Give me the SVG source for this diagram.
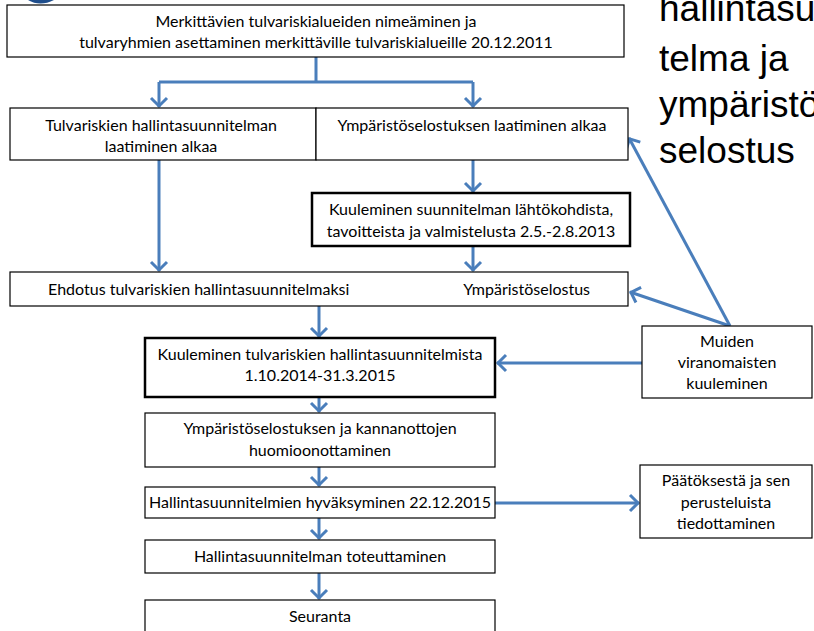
<svg xmlns="http://www.w3.org/2000/svg" width="814" height="631" viewBox="0 0 814 631">
<defs>
<marker id="ah" markerUnits="userSpaceOnUse" markerWidth="22" markerHeight="22" viewBox="-11 -11 22 22" refX="0" refY="0" orient="auto"><path d="M-9,-8 L-1,0 L-9,8" fill="none" stroke="#4a7ebb" stroke-width="3"/></marker>
</defs>
<style>
.box{fill:#fff;stroke:#000;stroke-width:1.2}
.thick{stroke-width:2.5}
.t{font-family:Lato,"Liberation Sans",sans-serif;font-size:16px;fill:#000;text-anchor:middle}
.big{font-family:"Liberation Sans",Arial,sans-serif;font-size:37px;fill:#000}
.c{fill:none;stroke:#4a7ebb;stroke-width:3}
.a{marker-end:url(#ah)}
</style>
<rect width="814" height="631" fill="#fff"/>
<path d="M28,0 Q40,7 54,0 Z" fill="#1f4e8c"/>
<g id="title">
<text class="big" x="659" y="21">hallintasuun</text>
<text class="big" x="659" y="71">telma ja</text>
<text class="big" x="659" y="117">ympäristö</text>
<text class="big" x="659" y="163">selostus</text>
</g>
<g id="connectors">
<path class="c" d="M316,57 V82 M159,82 H473"/>
<path class="c a" d="M159,82 V107"/>
<path class="c a" d="M473,82 V107"/>
<path class="c a" d="M159,160 V271"/>
<path class="c a" d="M473,160 V192"/>
<path class="c a" d="M473,246 V271"/>
<path class="c a" d="M319,306 V337"/>
<path class="c a" d="M319,397 V412"/>
<path class="c a" d="M319,467 V486"/>
<path class="c a" d="M319,518 V539"/>
<path class="c a" d="M319,573 V599"/>
<path class="c a" d="M495,503 H639"/>
<path class="c a" d="M642,363 H497"/>
<path class="c a" d="M730,326 L629,138"/>
<path class="c a" d="M730,326 L630,292"/>
</g>
<g id="n1"><rect class="box" x="7" y="5" width="617" height="52"/>
<text class="t" x="316" y="27">Merkittävien tulvariskialueiden nimeäminen ja</text>
<text class="t" x="316" y="48">tulvaryhmien asettaminen merkittäville tulvariskialueille 20.12.2011</text></g>
<g id="n2"><rect class="box" x="10" y="108" width="306" height="52"/>
<text class="t" x="161" y="131">Tulvariskien hallintasuunnitelman</text>
<text class="t" x="161" y="152">laatiminen alkaa</text></g>
<g id="n3"><rect class="box" x="316" y="108" width="312" height="52"/>
<text class="t" x="472" y="131">Ympäristöselostuksen laatiminen alkaa</text></g>
<g id="n4"><rect class="box thick" x="312" y="193" width="318" height="53"/>
<text class="t" x="471" y="215">Kuuleminen suunnitelman lähtökohdista,</text>
<text class="t" x="471" y="237">tavoitteista ja valmistelusta 2.5.-2.8.2013</text></g>
<g id="n5"><rect class="box" x="10" y="272" width="618" height="34"/>
<text class="t" x="48" y="295" style="text-anchor:start">Ehdotus tulvariskien hallintasuunnitelmaksi</text>
<text class="t" x="590" y="295" style="text-anchor:end">Ympäristöselostus</text></g>
<g id="n6"><rect class="box thick" x="145" y="338" width="350" height="59"/>
<text class="t" x="320" y="360">Kuuleminen tulvariskien hallintasuunnitelmista</text>
<text class="t" x="320" y="381">1.10.2014-31.3.2015</text></g>
<g id="n7"><rect class="box" x="145" y="413" width="350" height="54"/>
<text class="t" x="320" y="434">Ympäristöselostuksen ja kannanottojen</text>
<text class="t" x="320" y="456">huomioonottaminen</text></g>
<g id="n8"><rect class="box" x="145" y="487" width="350" height="31"/>
<text class="t" x="320" y="508">Hallintasuunnitelmien hyväksyminen 22.12.2015</text></g>
<g id="n9"><rect class="box" x="145" y="540" width="350" height="33"/>
<text class="t" x="320" y="562">Hallintasuunnitelman toteuttaminen</text></g>
<g id="n10"><rect class="box" x="145" y="600" width="350" height="40"/>
<text class="t" x="320" y="622">Seuranta</text></g>
<g id="n11"><rect class="box" x="642" y="326" width="170" height="72"/>
<text class="t" x="727" y="347">Muiden</text>
<text class="t" x="727" y="368">viranomaisten</text>
<text class="t" x="727" y="389">kuuleminen</text></g>
<g id="n12"><rect class="box" x="640" y="465" width="172" height="73"/>
<text class="t" x="726" y="486">Päätöksestä ja sen</text>
<text class="t" x="726" y="508">perusteluista</text>
<text class="t" x="726" y="529">tiedottaminen</text></g>
</svg>
